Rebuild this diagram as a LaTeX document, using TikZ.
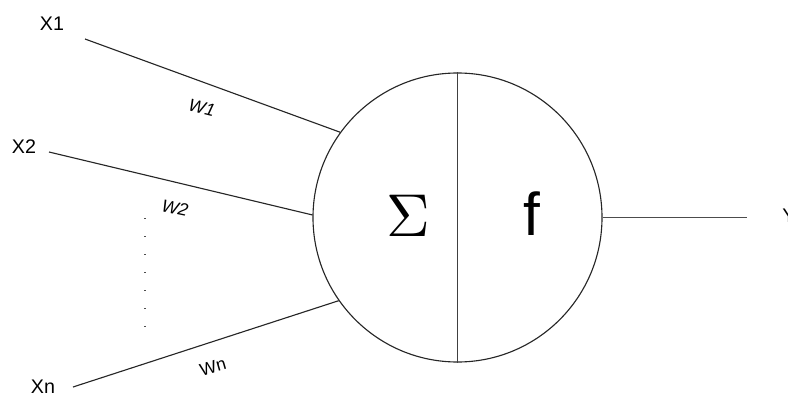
\documentclass[tikz,border=0pt]{standalone}
\usepackage{fontspec}
\setmainfont{Liberation Sans}
\begin{document}
\begin{tikzpicture}[x=0.025cm,y=-0.025cm,line width=0.8pt,
    garis/.style={draw=black!85},
    label/.style={font=\fontsize{14}{14}\selectfont,inner sep=1pt},
    bobot/.style={font=\fontsize{12.5}{12.5}\selectfont\itshape,inner sep=1pt}]
  \useasboundingbox (0,0) rectangle (788,394);
  \def\r{144.5}

  % Lingkaran neuron
  \node[garis,circle,minimum size=2*\r*0.025cm,inner sep=0pt] (neuron) at (457.5,217.5) {};
  \draw[black!75] (neuron.north) -- (neuron.south);
  \node (sigma) at (408,216) {\scalebox{4.3}{$\Sigma$}};
  \node (fungsi) at (532,214) {\fontsize{43}{43}\selectfont f};

  % Masukan
  \coordinate (x1) at (85,39);
  \coordinate (x2) at (49,152);
  \coordinate (xn) at (73,387);
  \node[label] (lx1) at (52,24) {X1};
  \node[label] (lx2) at (24,147) {X2};
  \node[label] (lxn) at (43,387) {Xn};
  \draw[garis] (x1) -- (neuron.144.7);
  \draw[garis] (x2) -- (neuron.179.5);
  \draw[garis] (xn) -- (neuron.215.6);

  % Bobot
  \node[bobot,rotate=-14] (w1) at (202,108) {W1};
  \node[bobot,rotate=-12] (w2) at (175,208) {W2};
  \node[label,rotate=16,font=\fontsize{12.5}{12.5}\selectfont] (wn) at (213,367) {Wn};

  % Titik-titik
  \draw[black!70,dash pattern=on 0.8pt off 12pt] (145,218) -- (145,330);

  % Keluaran
  \node[label] (y) at (789,216) {Y};
  \draw[black!70,line width=1.2pt] (neuron.east) -- (747,217.5);
\end{tikzpicture}
\end{document}
